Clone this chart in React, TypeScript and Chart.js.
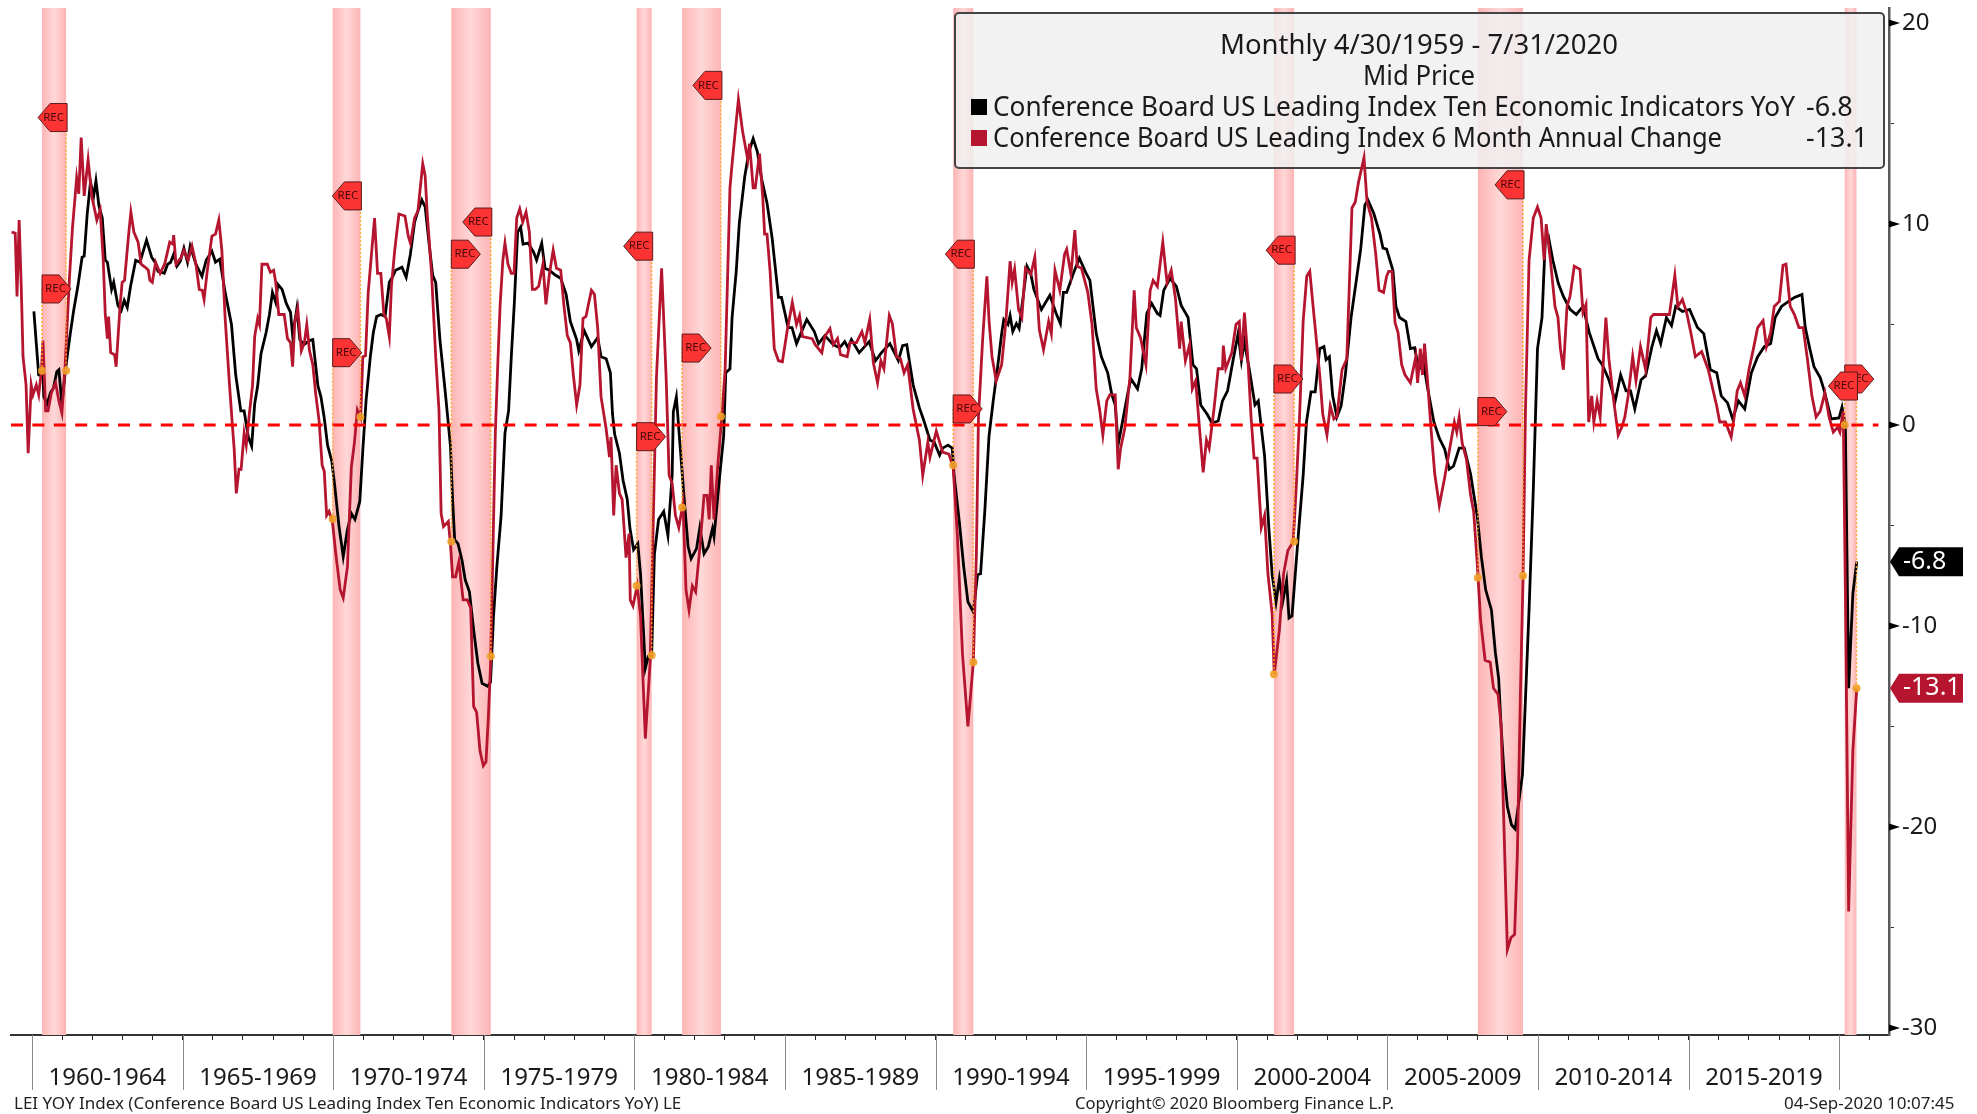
import React, { useEffect, useRef } from "react";
import { Chart, registerables } from "chart.js";

Chart.register(...registerables);

const redDates = [1959.32,1959.44,1959.5,1959.57,1959.64,1959.7,1959.8,1959.87,1959.97,1960.03,1960.14,1960.22,1960.31,1960.36,1960.45,1960.53,1960.64,1960.78,1960.89,1960.99,1961.1,1961.24,1961.34,1961.48,1961.55,1961.63,1961.73,1961.86,1961.98,1962.15,1962.26,1962.36,1962.43,1962.5,1962.54,1962.61,1962.74,1962.79,1962.92,1962.99,1963.07,1963.2,1963.28,1963.38,1963.52,1963.62,1963.76,1963.86,1963.91,1963.99,1964.1,1964.25,1964.4,1964.57,1964.67,1964.7,1964.78,1964.95,1965.04,1965.18,1965.31,1965.44,1965.55,1965.65,1965.71,1965.81,1965.97,1966.09,1966.2,1966.3,1966.41,1966.55,1966.65,1966.71,1966.78,1966.87,1966.94,1967.04,1967.11,1967.21,1967.32,1967.39,1967.49,1967.55,1967.63,1967.81,1967.91,1968.02,1968.09,1968.19,1968.37,1968.48,1968.58,1968.65,1968.72,1968.82,1968.94,1969.04,1969.12,1969.21,1969.32,1969.42,1969.53,1969.63,1969.7,1969.78,1969.86,1969.97,1970.09,1970.23,1970.33,1970.47,1970.6,1970.7,1970.8,1970.91,1970.98,1971.07,1971.16,1971.26,1971.37,1971.47,1971.58,1971.68,1971.76,1971.86,1971.93,1972.04,1972.18,1972.38,1972.49,1972.56,1972.7,1972.81,1972.97,1973.05,1973.12,1973.26,1973.4,1973.51,1973.58,1973.66,1973.82,1973.89,1973.96,1974.06,1974.17,1974.31,1974.45,1974.56,1974.66,1974.76,1974.87,1974.98,1975.07,1975.15,1975.22,1975.29,1975.38,1975.47,1975.54,1975.63,1975.7,1975.8,1975.91,1976.0,1976.09,1976.19,1976.29,1976.4,1976.51,1976.61,1976.71,1976.82,1976.96,1977.06,1977.17,1977.3,1977.41,1977.55,1977.66,1977.77,1977.87,1977.97,1978.08,1978.19,1978.29,1978.39,1978.47,1978.57,1978.67,1978.78,1978.89,1979.06,1979.17,1979.22,1979.31,1979.39,1979.5,1979.59,1979.72,1979.82,1979.86,1979.95,1980.09,1980.2,1980.36,1980.52,1980.73,1980.9,1981.05,1981.15,1981.25,1981.36,1981.47,1981.61,1981.71,1981.81,1981.92,1982.03,1982.17,1982.31,1982.41,1982.48,1982.55,1982.64,1982.76,1982.9,1983.01,1983.17,1983.24,1983.45,1983.59,1983.76,1983.82,1983.94,1984.01,1984.15,1984.26,1984.32,1984.4,1984.5,1984.64,1984.78,1984.91,1985.06,1985.24,1985.38,1985.48,1985.58,1985.9,1986.0,1986.22,1986.32,1986.49,1986.6,1986.74,1986.84,1987.06,1987.16,1987.37,1987.55,1987.65,1987.81,1987.93,1988.07,1988.18,1988.28,1988.46,1988.56,1988.7,1988.83,1988.95,1989.07,1989.25,1989.46,1989.57,1989.74,1989.81,1990.02,1990.23,1990.44,1990.58,1990.72,1990.89,1991.07,1991.25,1991.35,1991.42,1991.56,1991.7,1991.77,1991.87,1992.01,1992.19,1992.33,1992.47,1992.54,1992.62,1992.75,1992.86,1992.98,1993.16,1993.29,1993.44,1993.58,1993.75,1993.84,1993.96,1994.12,1994.28,1994.35,1994.49,1994.62,1994.7,1994.84,1995.05,1995.19,1995.33,1995.44,1995.55,1995.68,1995.78,1995.96,1996.06,1996.14,1996.28,1996.45,1996.59,1996.66,1996.8,1996.98,1997.12,1997.22,1997.36,1997.54,1997.68,1997.82,1997.96,1998.1,1998.15,1998.29,1998.43,1998.52,1998.63,1998.75,1998.88,1998.99,1999.08,1999.24,1999.38,1999.52,1999.55,1999.63,1999.83,1999.97,2000.08,2000.15,2000.25,2000.36,2000.47,2000.57,2000.67,2000.81,2000.92,2001.03,2001.17,2001.24,2001.41,2001.55,2001.69,2001.87,2001.97,2002.08,2002.2,2002.32,2002.42,2002.53,2002.75,2002.85,2002.99,2003.1,2003.22,2003.32,2003.49,2003.65,2003.82,2003.93,2004.04,2004.22,2004.32,2004.47,2004.61,2004.72,2004.87,2004.97,2005.04,2005.15,2005.25,2005.35,2005.47,2005.58,2005.76,2005.94,2006.0,2006.09,2006.16,2006.23,2006.33,2006.44,2006.57,2006.72,2006.9,2007.05,2007.22,2007.3,2007.38,2007.48,2007.62,2007.76,2007.86,2007.98,2008.09,2008.24,2008.41,2008.52,2008.67,2008.77,2008.87,2008.98,2009.1,2009.22,2009.31,2009.41,2009.5,2009.58,2009.7,2009.84,2009.98,2010.1,2010.2,2010.27,2010.41,2010.56,2010.66,2010.74,2010.84,2010.96,2011.06,2011.2,2011.39,2011.49,2011.59,2011.68,2011.78,2011.85,2011.96,2012.06,2012.25,2012.35,2012.49,2012.66,2012.78,2012.88,2012.99,2013.14,2013.25,2013.4,2013.57,2013.74,2013.83,2014.11,2014.36,2014.54,2014.64,2014.79,2014.93,2015.07,2015.22,2015.43,2015.65,2015.79,2015.93,2016.03,2016.22,2016.41,2016.51,2016.61,2016.72,2016.86,2017.0,2017.15,2017.29,2017.47,2017.58,2017.72,2017.84,2018.01,2018.13,2018.23,2018.37,2018.51,2018.66,2018.8,2018.94,2019.09,2019.23,2019.37,2019.52,2019.66,2019.8,2019.95,2020.02,2020.13,2020.2,2020.31,2020.45,2020.58];

const redValues = [9.6,9.55,6.4,10.2,6.9,3.4,2,-1.4,2.0,1.5,2.0,1.5,2.7,4.2,0.7,0.7,1.6,2.1,1.2,0.6,3.0,7.3,9.8,12.3,11.5,14.3,11.4,13.2,11.4,10.2,10.7,8.3,5.5,4.3,5.4,3.6,3.5,2.9,5.9,7.1,7.2,9.4,10.6,9.6,9.1,8.0,7.85,7.7,7.2,7.1,8.1,7.55,8.0,9.1,9.0,9.45,8.0,8.35,8.7,8.2,8.9,8.0,6.75,6.7,6.25,7.6,9.4,9.5,10.2,8.7,5.3,2.1,0,-1.2,-3.4,-2.2,-2.2,-0.4,-1.0,0.5,2.0,4.4,5.3,5.0,8.0,8.0,7.6,7.7,7.1,5.5,5.5,4.3,4.1,2.9,5.1,5.8,3.7,4.1,5.0,3.7,3.0,1.5,0.2,-2.0,-2.3,-4.5,-4.3,-4.8,-6.5,-8.2,-8.6,-7.05,-2.1,-0.9,0.75,0.35,3.4,3.45,6.6,8.35,10.3,7.55,7.55,5.5,5.3,4.4,6.9,8.7,10.5,10.4,9.4,9.05,10.3,10.65,13.0,12.4,10.5,7.6,3.4,0.7,-4.4,-5.05,-4.8,-5.9,-7.55,-7.55,-6.8,-8.7,-8.7,-9.1,-14.0,-14.3,-16.2,-16.95,-16.75,-14.5,-12.0,-7,-0.4,3.4,6.0,8.2,9.05,8.0,7.55,7.55,10.3,10.75,10.1,10.6,9.6,6.75,6.75,6.9,8.0,6.0,7.45,8.7,7.8,7.7,5.9,4.45,4.1,2.5,1.0,2.0,5.3,5.4,6.0,6.7,6.5,4.8,1.4,-0.2,-1.6,-0.6,-4.5,-2.0,-3.4,-3.7,-6.6,-5.4,-8.7,-9.0,-8.0,-9.5,-15.6,-11.8,2.4,7.8,2.4,-2.5,-2.9,-4.5,-5.1,-3.9,-8.2,-9.2,-8,-8.3,-6.1,-3.5,-3.5,-4.7,-2.0,-4.7,-2.1,0.4,2.8,11.8,13,16.2,14.6,13.2,14,11.8,11.8,13.5,11.3,9.5,9.5,7.7,3.8,3.2,3.15,4.6,6.1,5.0,5.45,4.4,4.3,4.0,3.6,4.4,4.8,4.0,4.3,3.5,3.4,4.1,4.1,4.65,4.1,5.25,3.1,2.1,3.2,2.8,5.45,5.05,3.4,3.3,2.6,3.0,0.8,-0.75,-2.5,-0.85,-1.6,-0.3,-1.35,-1.45,-2.1,-5.5,-11.4,-15,-11.8,-6.5,0.4,4.3,7.4,5.2,3.4,2.2,3.0,5.15,8.15,7.1,7.75,5.75,5.35,7.8,7.5,8.35,4.75,3.75,5.15,4.55,7.7,6.7,8.5,8.75,7.5,9.7,7.9,7.8,6.6,5.0,1.8,0.8,-0.5,1.2,1.5,1.5,-2.2,-1.15,-0.15,2.4,6.7,4.85,4.35,3.0,6.7,7.2,6.9,9.1,7.1,7.7,6.3,3.8,5.15,3.2,4.0,1.8,2.2,0,-2.35,-0.75,-1.15,0.8,2.8,2.8,3.95,2.8,3.6,5.0,5.15,3.2,5.6,3.4,0.4,-1.65,-1.65,-5.1,-4.5,-7.4,-9.4,-12.4,-10.2,-7.4,-6.25,-5.8,-3.1,0.4,5.15,7.4,7.65,5.9,2.5,0.55,-0.5,0.95,0.3,0.4,2.75,3.3,10.8,11.1,12.1,13.3,11.1,10.3,8.5,6.7,6.6,7.4,7.65,7.65,5.1,4.6,3.0,2.5,2.1,3.4,2.1,3.8,2.5,4.05,2.2,-0.1,-2.45,-4.0,-2.6,-1.3,0.15,-0.35,0.4,-0.9,-1.7,-3.5,-4.3,-6.9,-9.7,-11.7,-11.8,-13.1,-13.4,-14.9,-20.15,-26.1,-25.5,-25.35,-21.45,-13.6,-7.65,0.7,8.2,10.3,10.85,10.3,8.2,10.0,8.2,5.9,5.35,3.8,2.75,5.9,6.4,7.9,7.75,5.6,6.0,0.15,1.45,0.15,1.2,0.4,5.35,3.3,1.45,-0.5,-0.1,0.4,1.45,3.4,2.2,3.9,2.75,5.35,5.5,5.5,5.5,7.45,5.9,6.25,5.6,4.6,3.4,3.65,2.75,1.85,0.95,0.15,0.15,-0.6,0.4,1.7,2.1,1.45,2.75,3.8,4.85,5.2,3.9,4.6,5.9,6.15,7.95,8.0,5.9,5.5,4.85,4.85,3.3,1.45,0.4,0.7,1.6,0.4,-0.35,-0.1,-0.35,0.7,-8.0,-24.2,-16.2,-13.1];

const blackDates = [1960.06,1960.13,1960.22,1960.36,1960.39,1960.5,1960.61,1960.71,1960.82,1960.89,1960.99,1961.1,1961.24,1961.38,1961.52,1961.66,1961.73,1961.83,1961.94,1962.04,1962.12,1962.22,1962.33,1962.43,1962.5,1962.64,1962.71,1962.85,1962.96,1963.06,1963.16,1963.27,1963.44,1963.58,1963.8,1963.97,1964.08,1964.18,1964.39,1964.5,1964.6,1964.7,1964.81,1964.92,1965.04,1965.16,1965.25,1965.44,1965.64,1965.78,1965.97,1966.09,1966.23,1966.41,1966.62,1966.76,1966.93,1967.04,1967.18,1967.29,1967.39,1967.49,1967.6,1967.77,1967.88,1967.98,1968.09,1968.16,1968.3,1968.44,1968.58,1968.65,1968.79,1968.89,1969.03,1969.21,1969.32,1969.49,1969.59,1969.7,1969.81,1969.95,1970.05,1970.19,1970.33,1970.47,1970.6,1970.72,1970.88,1970.98,1971.09,1971.23,1971.33,1971.44,1971.58,1971.72,1971.86,1971.96,1972.07,1972.28,1972.42,1972.56,1972.7,1972.81,1972.94,1973.05,1973.19,1973.3,1973.4,1973.54,1973.72,1973.89,1973.96,1974.03,1974.14,1974.27,1974.38,1974.52,1974.66,1974.8,1974.94,1975.12,1975.22,1975.32,1975.43,1975.57,1975.7,1975.82,1975.91,1976.01,1976.12,1976.22,1976.3,1976.47,1976.65,1976.75,1976.92,1977.03,1977.17,1977.38,1977.55,1977.73,1977.87,1978.08,1978.15,1978.33,1978.57,1978.78,1978.89,1979.06,1979.2,1979.27,1979.34,1979.5,1979.62,1979.76,1979.85,1979.97,1980.11,1980.2,1980.29,1980.36,1980.46,1980.57,1980.66,1980.8,1980.97,1981.11,1981.25,1981.29,1981.39,1981.5,1981.64,1981.78,1981.88,1982.06,1982.17,1982.31,1982.45,1982.59,1982.64,1982.83,1982.96,1983.03,1983.17,1983.24,1983.38,1983.48,1983.66,1983.8,1983.94,1984.08,1984.22,1984.4,1984.57,1984.78,1984.88,1985.1,1985.23,1985.38,1985.52,1985.72,1985.97,1986.11,1986.32,1986.6,1986.81,1986.98,1987.09,1987.2,1987.46,1987.79,1988.0,1988.2,1988.48,1988.76,1988.9,1989.04,1989.25,1989.46,1989.6,1989.81,1989.95,1990.13,1990.23,1990.41,1990.55,1990.61,1990.79,1990.93,1991.07,1991.25,1991.39,1991.49,1991.63,1991.77,1991.91,1992.05,1992.19,1992.26,1992.4,1992.47,1992.56,1992.68,1992.77,1993.03,1993.16,1993.26,1993.51,1993.79,1994.0,1994.14,1994.24,1994.35,1994.56,1994.77,1994.98,1995.12,1995.33,1995.5,1995.71,1995.85,1995.96,1996.06,1996.2,1996.38,1996.48,1996.7,1996.84,1997.01,1997.17,1997.36,1997.45,1997.57,1997.78,1997.99,1998.15,1998.38,1998.54,1998.66,1998.8,1999.03,1999.17,1999.38,1999.52,1999.69,1999.87,2000.04,2000.15,2000.25,2000.43,2000.6,2000.71,2000.92,2001.06,2001.17,2001.3,2001.41,2001.52,2001.65,2001.73,2001.83,2002.04,2002.2,2002.31,2002.46,2002.6,2002.75,2002.89,2002.96,2003.07,2003.18,2003.32,2003.46,2003.6,2003.79,2003.96,2004.11,2004.25,2004.35,2004.54,2004.75,2004.85,2004.97,2005.18,2005.28,2005.4,2005.61,2005.76,2005.9,2006.04,2006.19,2006.33,2006.54,2006.72,2006.9,2007.05,2007.19,2007.38,2007.55,2007.76,2007.98,2008.12,2008.26,2008.45,2008.58,2008.69,2008.77,2008.87,2008.98,2009.12,2009.24,2009.35,2009.48,2009.58,2009.7,2009.84,2009.98,2010.13,2010.24,2010.34,2010.49,2010.67,2010.84,2011.06,2011.27,2011.49,2011.7,2011.99,2012.13,2012.35,2012.56,2012.74,2012.92,2013.07,2013.21,2013.42,2013.57,2013.78,2013.93,2014.07,2014.26,2014.43,2014.57,2014.79,2015.03,2015.29,2015.5,2015.72,2015.93,2016.08,2016.29,2016.46,2016.65,2016.86,2017.08,2017.29,2017.51,2017.72,2017.87,2018.08,2018.27,2018.51,2018.76,2018.87,2019.02,2019.16,2019.37,2019.52,2019.73,2019.99,2020.09,2020.2,2020.31,2020.45,2020.58];

const blackValues = [5.65,4.25,2.5,2.45,1.4,1.05,1.6,1.85,2.65,2.75,1.05,2.65,4.25,5.7,6.9,8.35,8.4,10.5,12.1,11.35,12.15,10.9,10.3,8.2,8.1,6.75,7.1,5.95,5.7,6.2,5.85,6.9,8.2,8.1,9.2,8.35,8.1,7.65,7.55,8.0,8.1,8.5,7.9,8.15,8.8,8.1,8.9,8.0,7.4,8.2,8.65,8.1,8.25,6.6,5.0,2.5,0.7,0.7,-0.6,-1.05,1.05,1.95,3.55,4.6,5.5,6.6,6.1,7.0,6.75,6.05,5.6,4.45,5.8,4.25,4.0,4.2,4.25,1.95,1.4,0.35,-1.0,-1.8,-3.05,-5.05,-6.55,-5.2,-4.4,-4.7,-3.8,-1.25,1.25,3.4,4.6,5.4,5.5,5.4,7.1,7.35,7.7,7.85,7.35,8.5,10.1,10.65,11.2,10.85,8.9,7.45,7.1,4.25,1.6,-1.05,-3.7,-5.7,-5.9,-6.7,-7.7,-8.3,-10.2,-11.85,-12.85,-13,-12.8,-9.5,-7.05,-4.55,-0.4,0.7,3.4,6.05,9.6,9.85,9.0,9.05,8.6,8.2,9.05,7.8,7.7,7.45,7.3,6.5,5.15,4.25,3.7,4.7,3.9,4.35,3.4,3.3,2.6,0.55,-0.45,-1.4,-2.75,-3.7,-5.15,-6.2,-5.9,-7.4,-10,-12.1,-11.5,-11.45,-6.45,-4.7,-4.3,-5.5,-2.5,0.65,1.4,-0.75,-3.5,-6.05,-6.65,-6.15,-5.1,-6.4,-6.05,-5.15,-5.55,-2.5,-0.55,2.6,2.8,5.35,7.7,10.05,12.35,13.6,14.25,13.6,12.25,11.05,9.3,6.35,6.35,4.85,4.85,4.05,4.55,5.25,4.65,4.05,4.45,4.0,3.85,4.15,3.85,4.25,3.6,4.15,3.2,3.6,4.05,3.2,3.95,4.0,2.0,0.85,0.25,-0.75,-0.85,-1.5,-1.15,-1.0,-1.15,-2.5,-4.9,-7.05,-8.8,-9.3,-7.45,-7.4,-4.3,-0.55,1.2,2.8,4.55,5.25,5.0,5.45,4.65,5.05,4.8,7.9,7.5,6.75,5.75,6.45,5.55,5.05,6.6,6.6,7.5,8.3,7.6,7.2,4.55,3.4,2.6,1.5,1.0,-0.95,0.15,1.6,2.3,1.8,2.8,5.55,6.05,5.55,5.45,6.7,7.3,6.9,5.95,5.35,3.0,2.8,1.0,0.5,0.1,0.2,1.2,1.7,3.2,4.55,3.2,4.15,2.6,1.0,1.2,-1.55,-5.1,-7.45,-8.8,-7.65,-8.8,-7.75,-9.6,-9.5,-5.45,-2.5,0.15,1.65,1.65,3.8,3.9,3.25,3.4,1.45,0.4,0.95,2.5,5.35,7.15,8.75,10.95,11.2,10.55,9.5,8.8,8.75,7.7,5.9,5.35,5.15,3.8,3.85,2.75,3.15,1.85,0.15,-0.65,-1.2,-2.2,-2.05,-1.15,-1.15,-2.45,-4.55,-6.6,-8.2,-9.2,-11.3,-12.6,-14.95,-17.3,-19,-19.9,-20.1,-18.85,-17.4,-13.65,-9.2,-3.25,3.8,5.35,9.25,9.4,8.2,7.05,6.4,5.75,5.5,5.9,4.6,3.3,3.0,2.25,1.2,2.5,1.7,1.7,0.8,2.25,2.45,3.9,4.7,4.05,5.35,4.95,5.9,5.65,5.75,4.85,4.55,2.75,2.6,1.45,1.1,0.3,1.2,0.8,2.6,3.4,3.9,4.05,5.35,5.9,6.1,6.35,6.5,4.85,3.8,2.9,2.35,1.6,0.3,0.35,0.9,0.0,-13.1,-8.4,-6.8];

const recessionStarts = [1960.33,1969.98,1973.92,1980.07,1981.58,1990.58,2001.23,2008.0,2020.18];
const recessionEnds = [1961.13,1970.9,1975.23,1980.57,1982.87,1991.25,2001.9,2009.5,2020.57];
const startMarkerValues = [2.7,-4.67,-5.8,-8.0,-4.1,-2.0,-12.4,-7.6,0.0];
const endMarkerValues = [2.7,0.4,-11.5,-11.45,0.43,-11.8,-5.8,-7.5,-13.1];
const startTagValues = [6.77,3.6,8.5,-0.58,3.83,0.8,2.29,0.67,2.29];
const endTagValues = [15.3,11.4,10.1,8.9,16.9,8.5,8.7,11.95,1.94];

const yearTicks = [1960,1961,1962,1963,1964,1965,1966,1967,1968,1969,1970,1971,1972,1973,1974,1975,1976,1977,1978,1979,1980,1981,1982,1983,1984,1985,1986,1987,1988,1989,1990,1991,1992,1993,1994,1995,1996,1997,1998,1999,2000,2001,2002,2003,2004,2005,2006,2007,2008,2009,2010,2011,2012,2013,2014,2015,2016,2017,2018,2019,2020,2021];
const periodEdges = [1960,1965,1970,1975,1980,1985,1990,1995,2000,2005,2010,2015,2020];
const periodLabels = ["1960-1964","1965-1969","1970-1974","1975-1979","1980-1984","1985-1989","1990-1994","1995-1999","2000-2004","2005-2009","2010-2014","2015-2019"];
const periodCenters = [1962.5,1967.5,1972.5,1977.5,1982.5,1987.5,1992.5,1997.5,2002.5,2007.5,2012.5,2017.5];
const valueTicks = [-30,-25,-20,-15,-10,-5,0,5,10,15,20];
const lastBlack = -6.8;
const lastRed = -13.1;

const FONT = '"Noto Sans"';
const RED = "#b5152f";

function zip(xs: number[], ys: number[]) {
  return xs.map((x, i) => ({ x, y: ys[i] }));
}

function drawTag(ctx: CanvasRenderingContext2D, xEdge: number, yc: number, pointsRight: boolean) {
  const w = 29, h = 28, p = 12;
  const d = pointsRight ? 1 : -1;
  ctx.beginPath();
  ctx.moveTo(xEdge, yc - h / 2);
  ctx.lineTo(xEdge + d * (w - p), yc - h / 2);
  ctx.lineTo(xEdge + d * w, yc);
  ctx.lineTo(xEdge + d * (w - p), yc + h / 2);
  ctx.lineTo(xEdge, yc + h / 2);
  ctx.closePath();
  ctx.fillStyle = "#fb3333";
  ctx.fill();
  ctx.strokeStyle = "#5a1a1a";
  ctx.lineWidth = 1;
  ctx.stroke();
  ctx.fillStyle = "#4a0808";
  ctx.font = `11.5px ${FONT}`;
  ctx.textAlign = "center";
  ctx.textBaseline = "middle";
  ctx.fillText("REC", xEdge + d * (w / 2 - 1), yc);
}

function valueFlag(ctx: CanvasRenderingContext2D, yc: number, text: string, bg: string) {
  const left = 1890, right = 1963, h = 29;
  ctx.beginPath();
  ctx.moveTo(left, yc);
  ctx.lineTo(left + 9, yc - h / 2);
  ctx.lineTo(right, yc - h / 2);
  ctx.lineTo(right, yc + h / 2);
  ctx.lineTo(left + 9, yc + h / 2);
  ctx.closePath();
  ctx.fillStyle = bg;
  ctx.fill();
  ctx.fillStyle = "#ffffff";
  ctx.font = `25px ${FONT}`;
  ctx.textAlign = "left";
  ctx.textBaseline = "middle";
  ctx.fillText(text, 1903, yc);
}

const decorations = {
  id: "decorations",
  beforeDatasetsDraw(chart: any) {
    const { ctx, chartArea, scales } = chart;
    const x = scales.x;
    ctx.save();
    recessionStarts.forEach((s, i) => {
      const a = x.getPixelForValue(s);
      const b = x.getPixelForValue(recessionEnds[i]);
      const g = ctx.createLinearGradient(a, 0, b, 0);
      g.addColorStop(0, "#fdb4b4");
      g.addColorStop(0.5, "#ffd8d8");
      g.addColorStop(1, "#fdb4b4");
      ctx.fillStyle = g;
      ctx.fillRect(a, chartArea.top, b - a, chartArea.bottom - chartArea.top);
    });
    // legend panel sits above the bands but under the lines
    ctx.beginPath();
    ctx.roundRect(955, 13, 929, 155, 4);
    ctx.fillStyle = "rgba(240,240,240,0.85)";
    ctx.fill();
    ctx.strokeStyle = "#444";
    ctx.lineWidth = 2;
    ctx.stroke();
    // long separators below the axis
    ctx.strokeStyle = "#8a8a8a";
    ctx.lineWidth = 1;
    periodEdges.forEach((yr) => {
      const px = Math.round(x.getPixelForValue(yr)) + 0.5;
      ctx.beginPath();
      ctx.moveTo(px, chartArea.bottom);
      ctx.lineTo(px, 1090);
      ctx.stroke();
    });
    ctx.restore();
  },
  afterDatasetsDraw(chart: any) {
    const { ctx, scales } = chart;
    const x = scales.x, y = scales.y;
    ctx.save();
    // dotted connectors, then tags
    ctx.strokeStyle = "rgba(255,165,40,0.95)";
    ctx.lineWidth = 1.5;
    ctx.setLineDash([2, 2]);
    recessionStarts.forEach((s, i) => {
      const a = x.getPixelForValue(s);
      ctx.beginPath();
      ctx.moveTo(a, y.getPixelForValue(startTagValues[i]));
      ctx.lineTo(a, y.getPixelForValue(startMarkerValues[i]));
      ctx.stroke();
      const b = x.getPixelForValue(recessionEnds[i]);
      ctx.beginPath();
      ctx.moveTo(b, y.getPixelForValue(endTagValues[i]));
      ctx.lineTo(b, y.getPixelForValue(endMarkerValues[i]));
      ctx.stroke();
    });
    ctx.setLineDash([]);
    recessionStarts.forEach((s, i) => {
      drawTag(ctx, x.getPixelForValue(s), y.getPixelForValue(startTagValues[i]), true);
      drawTag(ctx, x.getPixelForValue(recessionEnds[i]) + 1, y.getPixelForValue(endTagValues[i]), false);
    });

    // right axis arrow heads on labelled ticks
    ctx.fillStyle = "#000";
    valueTicks.filter((v) => v % 10 === 0).forEach((v) => {
      const py = y.getPixelForValue(v);
      ctx.beginPath();
      ctx.moveTo(1889, py - 3.5);
      ctx.lineTo(1900, py);
      ctx.lineTo(1889, py + 3.5);
      ctx.closePath();
      ctx.fill();
    });

    valueFlag(ctx, y.getPixelForValue(lastBlack), String(lastBlack), "#000000");
    valueFlag(ctx, y.getPixelForValue(lastRed), String(lastRed), RED);

    // legend text
    ctx.fillStyle = "#1a1a1a";
    ctx.textBaseline = "middle";
    ctx.textAlign = "center";
    ctx.font = `27.5px ${FONT}`;
    ctx.fillText("Monthly 4/30/1959 - 7/31/2020", 1419, 46, 398);
    ctx.fillText("Mid Price", 1419, 77, 112);
    ctx.textAlign = "left";
    ctx.font = `27px ${FONT}`;
    ctx.fillText("Conference Board US Leading Index Ten Economic Indicators YoY", 993, 108, 802);
    ctx.fillText("-6.8", 1806, 108, 47);
    ctx.fillText("Conference Board US Leading Index 6 Month Annual Change", 993, 139, 729);
    ctx.fillText("-13.1", 1806, 139, 62);
    ctx.fillStyle = "#000";
    ctx.fillRect(971, 99, 16, 16);
    ctx.fillStyle = RED;
    ctx.fillRect(971, 130, 16, 16);

    // footer
    ctx.fillStyle = "#222";
    ctx.font = `17px ${FONT}`;
    ctx.fillText("LEI YOY Index (Conference Board US Leading Index Ten Economic Indicators YoY) LE", 14, 1104, 673);
    ctx.fillText("Copyright\u00a9 2020 Bloomberg Finance L.P.", 1075, 1104, 319);
    ctx.fillText("04-Sep-2020 10:07:45", 1784, 1104, 176);
    ctx.restore();
  },
};

export default function App() {
  const ref = useRef<HTMLCanvasElement>(null);
  useEffect(() => {
    document.body.style.margin = "0";
    const chart = new Chart(ref.current as HTMLCanvasElement, {
      type: "line",
      data: {
        datasets: [
          {
            label: "Recession markers",
            data: [...zip(recessionStarts, startMarkerValues), ...zip(recessionEnds, endMarkerValues)],
            showLine: false,
            pointRadius: 4,
            pointBackgroundColor: "rgba(240,160,40,0.9)",
            pointBorderWidth: 0,
            order: 0,
          },
          {
            label: "Zero",
            data: [{ x: 1959.3, y: 0 }, { x: 2021.3, y: 0 }],
            borderColor: "#ff0000",
            borderWidth: 3,
            borderDash: [12, 9.4],
            pointRadius: 0,
            order: 1,
          },
          {
            label: "Conference Board US Leading Index 6 Month Annual Change",
            data: zip(redDates, redValues),
            borderColor: RED,
            borderWidth: 2.8,
            pointRadius: 0,
            tension: 0,
            order: 2,
          },
          {
            label: "Conference Board US Leading Index Ten Economic Indicators YoY",
            data: zip(blackDates, blackValues),
            borderColor: "#000000",
            borderWidth: 2.8,
            pointRadius: 0,
            tension: 0,
            order: 3,
          },
        ],
      } as any,
      options: {
        responsive: false,
        animation: false,
        parsing: false,
        normalized: true,
        layout: { autoPadding: false, padding: { left: 11, top: 8, right: 0, bottom: 0 } },
        plugins: { legend: { display: false }, tooltip: { enabled: false }, title: { display: false } },
        scales: {
          x: {
            type: "linear",
            position: "bottom",
            min: 1959.3,
            max: 2021.65,
            afterBuildTicks: (s: any) => { s.ticks = yearTicks.map((value) => ({ value })); },
            afterFit: (s: any) => { s.height = 5; s.paddingLeft = 0; s.paddingRight = 0; },
            ticks: { display: false },
            grid: { drawOnChartArea: false, drawTicks: true, tickLength: 5, color: "#222", lineWidth: 1 },
            border: { display: true, color: "#333", width: 2 },
          },
          x2: {
            type: "linear",
            position: "bottom",
            min: 1959.3,
            max: 2021.65,
            afterBuildTicks: (s: any) => { s.ticks = periodCenters.map((value) => ({ value })); },
            afterFit: (s: any) => { s.height = 74; s.paddingLeft = 0; s.paddingRight = 0; },
            ticks: {
              autoSkip: false,
              maxRotation: 0,
              padding: 16,
              color: "#1a1a1a",
              font: { family: "Noto Sans", size: 24 },
              callback: (v: any) => periodLabels[periodCenters.indexOf(Number(v))] ?? "",
            },
            grid: { display: false },
            border: { display: false },
          },
          y: {
            type: "linear",
            position: "right",
            min: -30.35,
            max: 20.75,
            afterBuildTicks: (s: any) => { s.ticks = valueTicks.map((value) => ({ value })); },
            afterFit: (s: any) => { s.width = 88; s.paddingTop = 0; s.paddingBottom = 0; },
            ticks: {
              autoSkip: false,
              padding: 8,
              color: "#1a1a1a",
              font: { family: "Noto Sans", size: 24 },
              callback: (v: any) => (Number(v) % 10 === 0 ? String(v) : ""),
            },
            grid: { drawOnChartArea: false, drawTicks: true, tickLength: 5, color: "#333", lineWidth: 1 },
            border: { display: true, color: "#5a5a5a", width: 2.5 },
          },
        },
      } as any,
      plugins: [decorations],
    });
    return () => chart.destroy();
  }, []);
  return (
    <canvas
      ref={ref}
      width={1977}
      height={1114}
      style={{ display: "block", width: 1977, height: 1114 }}
    />
  );
}
